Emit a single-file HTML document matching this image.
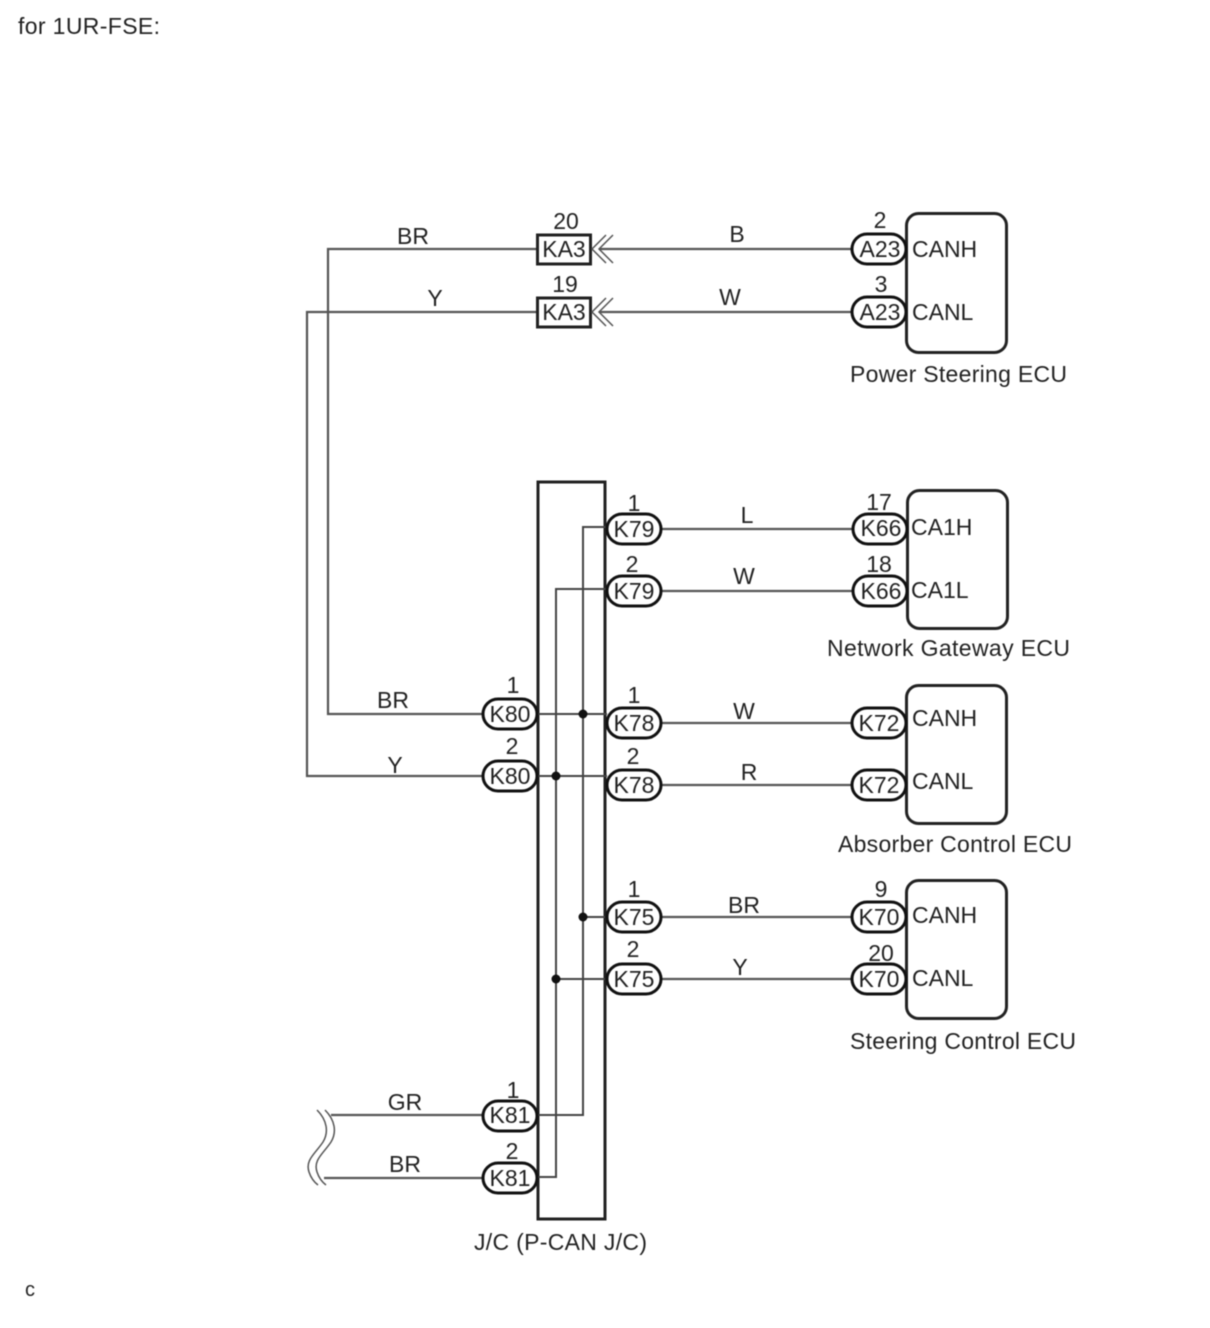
<!DOCTYPE html>
<html>
<head>
<meta charset="utf-8">
<style>
html,body{margin:0;padding:0;background:#fff;}
svg{display:block;filter:blur(0.45px);}
text{font-family:"Liberation Sans",sans-serif;font-size:23px;fill:#222;}
.m{text-anchor:middle;}
.w{stroke:#555;stroke-width:2.2;fill:none;}
.i{stroke:#444;stroke-width:2;fill:none;}
.p{stroke:#111;stroke-width:3;fill:#fff;}
.b{stroke:#222;stroke-width:3;fill:#fff;}
.a{stroke:#555;stroke-width:1.5;fill:none;}
</style>
</head>
<body>
<svg width="1210" height="1328" viewBox="0 0 1210 1328" xmlns="http://www.w3.org/2000/svg">
<text x="18" y="34" textLength="142">for 1UR-FSE:</text>
<text x="25" y="1296" style="font-size:20px">c</text>

<!-- long wires -->
<path class="w" d="M537 249H328V714H483"/>
<path class="w" d="M537 312H307V776H483"/>
<path class="w" d="M600 249H852"/>
<path class="w" d="M600 312H852"/>

<!-- Power steering ECU -->
<rect class="b" x="906.500" y="213.500" width="100" height="139" rx="12"/>
<rect class="b" x="537.500" y="235" width="53" height="29"/>
<rect class="b" x="537.500" y="298" width="53" height="29"/>
<path class="a" d="M606 235L592 249L606 263M613 235L599 249L613 263"/>
<path class="a" d="M606 298L592 312L606 326M613 298L599 312L613 326"/>
<rect class="p" x="852" y="234" width="54" height="30" rx="15"/>
<rect class="p" x="852" y="297" width="54" height="30" rx="15"/>
<text class="m" x="566" y="229">20</text>
<text class="m" x="565" y="292">19</text>
<text class="m" x="564" y="257">KA3</text>
<text class="m" x="564" y="320">KA3</text>
<text class="m" x="880" y="228">2</text>
<text class="m" x="881" y="292">3</text>
<text class="m" x="880" y="257">A23</text>
<text class="m" x="880" y="320">A23</text>
<text x="912" y="257">CANH</text>
<text x="912" y="320">CANL</text>
<text class="m" x="413" y="244">BR</text>
<text class="m" x="435" y="306">Y</text>
<text class="m" x="737" y="242">B</text>
<text class="m" x="730" y="305">W</text>
<text x="850" y="382" textLength="217">Power Steering ECU</text>

<!-- J/C -->
<rect x="538" y="482" width="67" height="737" fill="#fff" stroke="#222" stroke-width="3"/>
<path class="i" d="M537 714H607M537 776H607M605 917H583M605 979H556"/>
<path class="i" d="M607 527H583V1115H537"/>
<path class="i" d="M607 589H556V1177H537"/>
<circle cx="583" cy="714" r="4.500" fill="#111"/>
<circle cx="556" cy="776" r="4.500" fill="#111"/>
<circle cx="583" cy="917" r="4.500" fill="#111"/>
<circle cx="556" cy="979" r="4.500" fill="#111"/>

<!-- right wires -->
<path class="w" d="M661 529H852M661 591H852M661 723H852M661 785H852M661 917H852M661 979H852"/>

<!-- bottom wires -->
<path class="w" d="M331 1115H483M324 1178H483"/>
<path class="a" d="M317 1110C327 1120 329 1132 323 1142C315 1154 305 1160 309 1172C311 1178 314 1182 318 1185"/>
<path class="a" d="M325 1110C335 1120 337 1132 331 1142C323 1154 313 1160 317 1172C319 1178 322 1182 326 1185"/>

<!-- left pills -->
<rect class="p" x="483" y="699" width="54" height="30" rx="15"/>
<rect class="p" x="483" y="761" width="54" height="30" rx="15"/>
<rect class="p" x="483" y="1101" width="54" height="30" rx="15"/>
<rect class="p" x="483" y="1163" width="54" height="30" rx="15"/>
<text class="m" x="513" y="693">1</text>
<text class="m" x="512" y="754">2</text>
<text class="m" x="513" y="1098">1</text>
<text class="m" x="512" y="1159">2</text>
<text class="m" x="510" y="722">K80</text>
<text class="m" x="510" y="784">K80</text>
<text class="m" x="510" y="1123">K81</text>
<text class="m" x="510" y="1186">K81</text>
<text class="m" x="393" y="708">BR</text>
<text class="m" x="395" y="773">Y</text>
<text class="m" x="405" y="1110">GR</text>
<text class="m" x="405" y="1172">BR</text>

<!-- right-side pills of J/C -->
<rect class="p" x="607" y="514" width="54" height="30" rx="15"/>
<rect class="p" x="607" y="576" width="54" height="30" rx="15"/>
<rect class="p" x="607" y="708" width="54" height="30" rx="15"/>
<rect class="p" x="607" y="770" width="54" height="30" rx="15"/>
<rect class="p" x="607" y="902" width="54" height="30" rx="15"/>
<rect class="p" x="607" y="964" width="54" height="30" rx="15"/>
<text class="m" x="634" y="511">1</text>
<text class="m" x="632" y="572">2</text>
<text class="m" x="634" y="703">1</text>
<text class="m" x="633" y="764">2</text>
<text class="m" x="634" y="897">1</text>
<text class="m" x="633" y="957">2</text>
<text class="m" x="634" y="537">K79</text>
<text class="m" x="634" y="599">K79</text>
<text class="m" x="634" y="731">K78</text>
<text class="m" x="634" y="793">K78</text>
<text class="m" x="634" y="925">K75</text>
<text class="m" x="634" y="987">K75</text>
<text class="m" x="747" y="523">L</text>
<text class="m" x="744" y="584">W</text>
<text class="m" x="744" y="719">W</text>
<text class="m" x="749" y="780">R</text>
<text class="m" x="744" y="913">BR</text>
<text class="m" x="740" y="975">Y</text>

<!-- Network Gateway ECU -->
<rect class="b" x="907.500" y="490.500" width="100" height="138" rx="12"/>
<rect class="p" x="853" y="514" width="54" height="30" rx="15"/>
<rect class="p" x="853" y="576" width="54" height="30" rx="15"/>
<text class="m" x="879" y="510">17</text>
<text class="m" x="879" y="572">18</text>
<text class="m" x="881" y="536">K66</text>
<text class="m" x="881" y="599">K66</text>
<text x="911" y="535">CA1H</text>
<text x="911" y="598">CA1L</text>
<text x="827" y="656" textLength="243">Network Gateway ECU</text>

<!-- Absorber -->
<rect class="b" x="906.500" y="685.500" width="100" height="138" rx="12"/>
<rect class="p" x="852" y="708" width="54" height="30" rx="15"/>
<rect class="p" x="852" y="770" width="54" height="30" rx="15"/>
<text class="m" x="879" y="731">K72</text>
<text class="m" x="879" y="793">K72</text>
<text x="912" y="726">CANH</text>
<text x="912" y="789">CANL</text>
<text x="838" y="852" textLength="234">Absorber Control ECU</text>

<!-- Steering -->
<rect class="b" x="906.500" y="880.500" width="100" height="138" rx="12"/>
<rect class="p" x="852" y="902" width="54" height="30" rx="15"/>
<rect class="p" x="852" y="964" width="54" height="30" rx="15"/>
<text class="m" x="881" y="897">9</text>
<text class="m" x="881" y="961">20</text>
<text class="m" x="879" y="925">K70</text>
<text class="m" x="879" y="987">K70</text>
<text x="912" y="923">CANH</text>
<text x="912" y="986">CANL</text>
<text x="850" y="1049" textLength="226">Steering Control ECU</text>

<text x="474" y="1250" textLength="173">J/C (P-CAN J/C)</text>
</svg>
</body>
</html>
